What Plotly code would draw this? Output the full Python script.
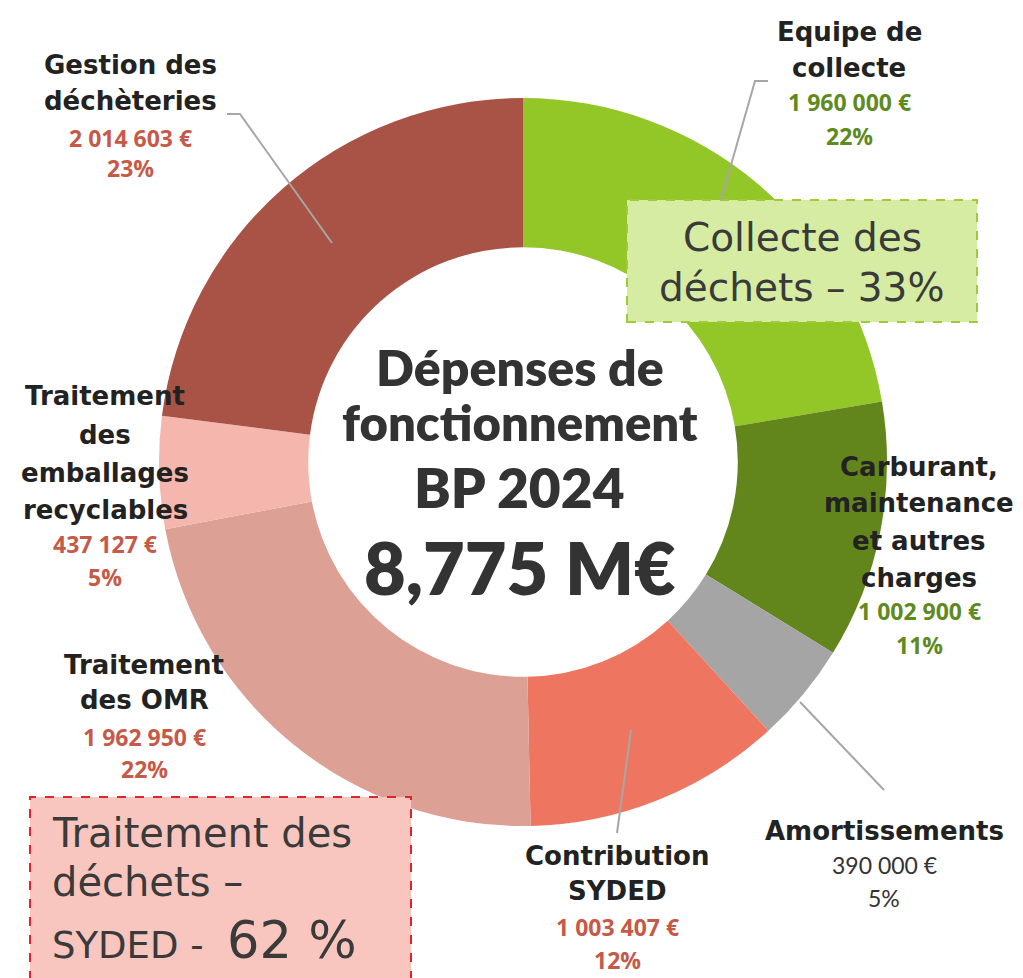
import plotly.graph_objects as go

# the page has an 8px body margin, so the figure is drawn at (8, 8)
OFF = 8
W, H = 1015, 970

labels = ["Equipe de collecte", "Carburant, maintenance et autres charges", "Amortissements",
          "Contribution SYDED", "Traitement des OMR", "Traitement des emballages recyclables",
          "Gestion des déchèteries"]
values = [1960000, 1002900, 390000, 1003407, 1962950, 437127, 2014603]
pct_labels = ["22%", "11%", "5%", "12%", "22%", "5%", "23%"]
title_lines = [["Equipe de", "collecte"],
               ["Carburant,", "maintenance", "et autres", "charges"],
               ["Amortissements"],
               ["Contribution", "SYDED"],
               ["Traitement", "des OMR"],
               ["Traitement", "des", "emballages", "recyclables"],
               ["Gestion des", "déchèteries"]]
colors = ["#93C627", "#62861C", "#A5A5A5", "#EE7661", "#DDA095", "#F4B6AD", "#A85345"]
value_colors = ["#5F8A1E", "#5F8A1E", "#333333", "#C65A48", "#C65A48", "#C65A48", "#C65A48"]

center_title = ["Dépenses de", "fonctionnement", "BP 2024", "8,775 M€"]
group_boxes = [["Collecte des", "déchets – 33%"], ["Traitement des", "déchets –", "SYDED - ", "62 %"]]

# layout: label anchor (center x, list of line y's) in page pixels
label_pos = [
    (849, [32, 68, 102, 136]),
    (919, [467, 503, 541, 578, 611, 645]),
    (884, [831, 865, 898]),
    (617, [856, 891, 927, 960]),
    (144, [665, 700, 737, 769]),
    (105, [396, 435, 473, 510, 544, 577]),
    (130, [65, 101, 138, 168]),
]


def px(x):
    return (x - OFF) / W


def py(y):
    return 1 - (y - OFF) / H


def fmt_eur(v):
    return f"{v:,}".replace(",", " ") + " €"


fig = go.Figure()
fig.add_trace(go.Pie(
    labels=labels, values=values, sort=False, direction="clockwise", rotation=0,
    hole=0.59, marker=dict(colors=colors, line=dict(width=0)),
    textinfo="none", hoverinfo="label+value+percent", showlegend=False,
    domain=dict(x=[px(159), px(887)], y=[py(826), py(98)]),
))

ann = []
TITLE_FONT = "DejaVu Sans"
VAL_FONT = "Open Sans"
for i in range(len(labels)):
    cx, ys = label_pos[i]
    lines = title_lines[i]
    for j, t in enumerate(lines):
        ann.append(dict(x=px(cx), y=py(ys[j]), text=t, showarrow=False, xanchor="center", yanchor="middle",
                        font=dict(family=TITLE_FONT, size=26, color="#222222", weight=700)))
    k = len(lines)
    is_amort = labels[i] == "Amortissements"
    wgt = 400 if is_amort else 700
    fam = "Lato" if is_amort else VAL_FONT
    sz = 23 if is_amort else 23
    for t, yy in ((fmt_eur(values[i]), ys[k]), (pct_labels[i], ys[k + 1])):
        ann.append(dict(x=px(cx), y=py(yy), text=t, showarrow=False, xanchor="center",
                        yanchor="middle", font=dict(family=fam, size=sz, color=value_colors[i], weight=wgt)))

# center text
center_specs = [(367, 50), (422, 49), (487, 55), (567, 72)]
for t, (yy, sz) in zip(center_title, center_specs):
    ann.append(dict(x=px(520), y=py(yy), text=t, showarrow=False, xanchor="center", yanchor="middle",
                    font=dict(family="Lato", size=sz, color="#333333", weight=800)))

BOX_FONT = "DejaVu Sans"
# group boxes text
for t, yy in zip(group_boxes[0], [237, 287]):
    ann.append(dict(x=px(802), y=py(yy), text=t, showarrow=False, xanchor="center", yanchor="middle",
                    font=dict(family=BOX_FONT, size=39, color="#3A3A3A")))
ann.append(dict(x=px(50), y=py(833), text=group_boxes[1][0], showarrow=False, xanchor="left", yanchor="middle",
                font=dict(family=BOX_FONT, size=40, color="#3A3A3A")))
ann.append(dict(x=px(50), y=py(882), text=group_boxes[1][1], showarrow=False, xanchor="left", yanchor="middle",
                font=dict(family=BOX_FONT, size=40, color="#3A3A3A")))
ann.append(dict(x=px(50), y=py(940),
                text=group_boxes[1][2] + " <span style='font-size:51px'>" + group_boxes[1][3] + "</span>",
                showarrow=False, xanchor="left", yanchor="middle",
                font=dict(family=BOX_FONT, size=37, color="#3A3A3A")))

shapes = [
    dict(type="rect", xref="paper", yref="paper", x0=px(627), x1=px(977), y0=py(322), y1=py(200),
         fillcolor="#D6ECA2", line=dict(color="#9DCB3B", width=2, dash="dash"), layer="above"),
    dict(type="rect", xref="paper", yref="paper", x0=px(30), x1=px(411), y0=py(995), y1=py(797),
         fillcolor="#F8C6BE", line=dict(color="#E0242E", width=2, dash="dash"), layer="above"),
]
leaders = [
    [(227, 114), (240, 114), (332, 243)],
    [(768, 81), (755, 81), (721, 200)],
    [(617, 833), (631, 730)],
    [(884, 790), (800, 702)],
]
for pts in leaders:
    path = "M " + " L ".join(f"{px(a)},{py(b)}" for a, b in pts)
    shapes.append(dict(type="path", xref="paper", yref="paper", path=path,
                       line=dict(color="#A6A6A6", width=2), layer="above"))

fig.update_layout(width=W, height=H, margin=dict(l=0, r=0, t=0, b=0),
                  paper_bgcolor="white", plot_bgcolor="white",
                  annotations=ann, shapes=shapes)
fig.write_html("out.html")
